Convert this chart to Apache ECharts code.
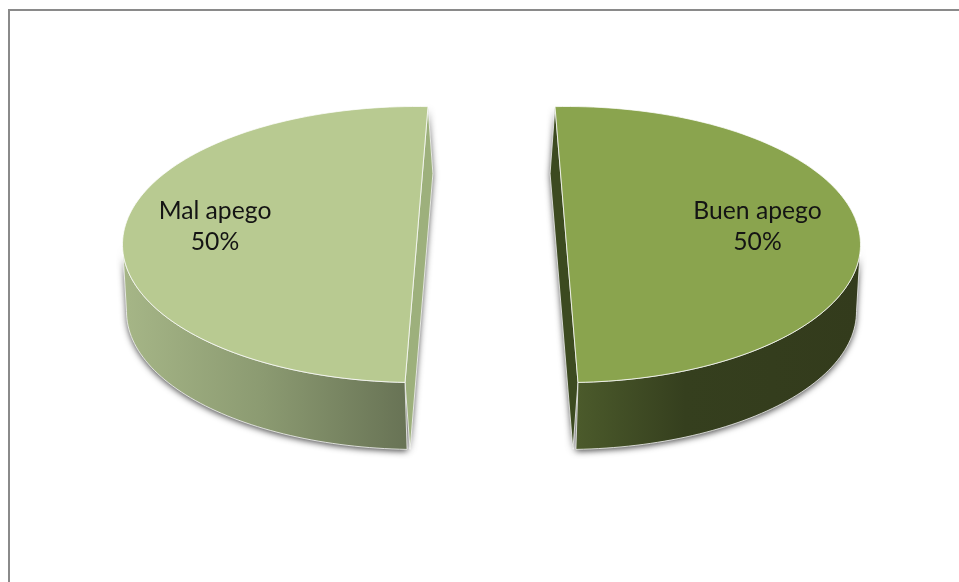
<!DOCTYPE html>
<html>
<head>
<meta charset="utf-8">
<style>html,body{margin:0;padding:0;background:#fff}#c{width:959px;height:582px}</style>
<script src="https://cdn.jsdelivr.net/npm/echarts@6/dist/echarts.min.js"></script>
</head>
<body>
<div id="c"></div>
<script>
// Attachment split, drawn as an exploded, tilted two-slice pie.
const categories = ['Buen apego', 'Mal apego'];
const values = [50, 50];

// Tilted-disc layout; the underside is slightly smaller and leans towards the gap.
const radiusX = 294, radiusY = 138, depth = 67;
const lowerRadiusX = 292;
const sliceCentres = [[566.5, 244.5], [416.5, 244.5]];
const wallLean = [-2, 2];
const cutLean = [-5, 5];
const sliceStarts = [-92.24, 92.24];
const labelAnchors = [[757.5, 227], [215, 227]];

const topColours = ['#8AA44E', '#B8CA91'];
const cutColours = ['#3C4A20', '#9DB07C'];
const wallStops = [
  [[0, '#4B5A2B'], [0.38, '#353F1E'], [1, '#333B1C']],
  [[0, '#A6B687'], [0.5, '#8B9A71'], [1, '#687355']]
];
const wallRanges = [[578, 860], [122, 406]];

const total = values.reduce((s, v) => s + v, 0);
const toRad = d => d * Math.PI / 180;

function rimPoint(cx, cy, rx, angle) {
  const t = toRad(angle);
  return [cx + rx * Math.cos(t), cy + radiusY * Math.sin(t)];
}

function rim(cx, cy, rx, from, to) {
  const pts = [];
  const n = Math.max(2, Math.ceil(Math.abs(to - from) / 1.5));
  for (let i = 0; i <= n; i++) {
    pts.push(rimPoint(cx, cy, rx, from + (to - from) * i / n));
  }
  return pts;
}

function renderSlice(params, api) {
  const i = params.dataIndex;
  const sweep = api.value(0) / total * 360;
  const [cx, cy] = sliceCentres[i];
  const ly = cy + depth;
  const from = sliceStarts[i];
  const to = from + sweep;
  const topFace = rim(cx, cy, radiusX, from, to);

  // The outer wall is only the front half of the rim.
  const frontFrom = i === 0 ? 0 : from;
  const frontTo = i === 0 ? to : 180;
  const wall = rim(cx, cy, radiusX, frontFrom, frontTo)
    .concat(rim(cx + wallLean[i], ly, lowerRadiusX, frontFrom, frontTo).reverse());

  // The cut face joins the chord on top to the chord underneath.
  const cut = [
    rimPoint(cx, cy, radiusX, from),
    rimPoint(cx, cy, radiusX, to),
    rimPoint(cx + cutLean[i], ly, lowerRadiusX, to),
    rimPoint(cx + cutLean[i], ly, lowerRadiusX, from)
  ];

  const [gx0, gx1] = wallRanges[i];
  const wallFill = new echarts.graphic.LinearGradient(
    gx0, 0, gx1, 0,
    wallStops[i].map(s => ({ offset: s[0], color: s[1] })), true);
  const rimLine = 'rgba(255,255,255,0.75)';
  const shadow = { shadowBlur: 6, shadowColor: 'rgba(0,0,0,0.7)', shadowOffsetX: 0, shadowOffsetY: 2 };

  return {
    type: 'group',
    children: [
      { type: 'polygon', shape: { points: wall }, style: Object.assign({ fill: '#777' }, shadow) },
      { type: 'polygon', shape: { points: cut }, style: Object.assign({ fill: '#777' }, shadow) },
      { type: 'polygon', shape: { points: cut },
        style: { fill: cutColours[i], stroke: rimLine, lineWidth: 1 } },
      { type: 'polygon', shape: { points: wall },
        style: { fill: wallFill, stroke: rimLine, lineWidth: 1 } },
      { type: 'polygon', shape: { points: topFace },
        style: { fill: topColours[i], stroke: rimLine, lineWidth: 1 } },
      { type: 'text',
        style: {
          text: categories[i] + '\n' + Math.round(api.value(0) / total * 100) + '%',
          x: labelAnchors[i][0], y: labelAnchors[i][1],
          fontFamily: 'Lato', fontSize: 24.7, lineHeight: 31,
          align: 'center', verticalAlign: 'middle', fill: '#141414'
        } }
    ]
  };
}

const chart = echarts.init(document.getElementById('c'), null, { renderer: 'canvas' });
chart.setOption({
  animation: false,
  backgroundColor: '#fff',
  graphic: [{
    type: 'rect', silent: true,
    shape: { x: 9, y: 10, width: 1100, height: 800 },
    style: { fill: 'none', stroke: '#8A8A8A', lineWidth: 2 }
  }],
  series: [{
    type: 'custom',
    coordinateSystem: 'none',
    silent: true,
    renderItem: renderSlice,
    data: values.map((v, i) => ({ name: categories[i], value: [v] }))
  }]
});
</script>
</body>
</html>
